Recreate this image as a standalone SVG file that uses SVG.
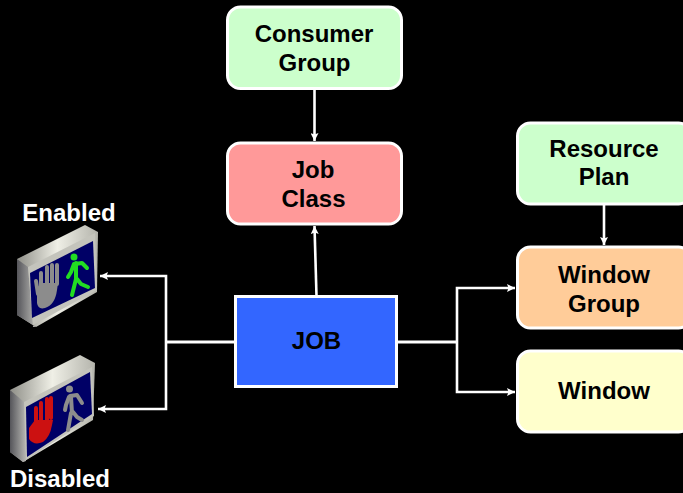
<svg xmlns="http://www.w3.org/2000/svg" width="683" height="493" viewBox="0 0 683 493">
<defs>
<style>
text{font-family:"Liberation Sans",Arial,sans-serif;font-weight:bold;font-size:24px;fill:#000;text-anchor:middle}
.w{fill:#fff}
.box{stroke:#fff;stroke-width:3}
.c{fill:none;stroke:#fff;stroke-width:3}
.t{fill:none;stroke:#fff;stroke-width:2.600}
.f{fill:none;stroke-width:4;stroke-linecap:round;stroke-linejoin:round}
</style>
<marker id="a" markerUnits="userSpaceOnUse" markerWidth="9" markerHeight="8" refX="8" refY="4" orient="auto"><path d="M0 0L8 4L0 8L1.500 4Z" fill="#fff"/></marker>
<linearGradient id="s" x1="0" y1="0" x2="1" y2="0"><stop offset="0" stop-color="#8f8f88"/><stop offset=".5" stop-color="#efefe6"/><stop offset="1" stop-color="#b4b4ac"/></linearGradient>
<linearGradient id="l" x1="0" y1="0" x2="1" y2="0"><stop offset="0" stop-color="#55555a"/><stop offset="1" stop-color="#b8b8b4"/></linearGradient>
</defs>
<rect width="683" height="493" fill="#000"/>
<g id="connectors">
<path class="t" d="M314.500 89V141" marker-end="url(#a)"/>
<path class="t" d="M316.500 296L314.500 226" marker-end="url(#a)"/>
<path class="t" d="M604 205V245" marker-end="url(#a)"/>
<path class="c" d="M235 342H166"/>
<path class="t" d="M166 342V276H100" marker-end="url(#a)"/>
<path class="t" d="M166 342V409H98" marker-end="url(#a)"/>
<path class="c" d="M398 342H457"/>
<path class="t" d="M457 342V288H515" marker-end="url(#a)"/>
<path class="t" d="M457 342V392H515" marker-end="url(#a)"/>
</g>
<g id="consumer-group"><rect class="box" x="227.500" y="7" width="174" height="81.500" rx="13" fill="#ccffcc"/><text x="314" y="42">Consumer</text><text x="314.500" y="71">Group</text></g>
<g id="job-class"><rect class="box" x="227.500" y="143" width="174" height="81" rx="13" fill="#ff9999"/><text x="313" y="178">Job</text><text x="313.500" y="207">Class</text></g>
<g id="resource-plan"><rect class="box" x="517.500" y="123" width="174" height="81" rx="13" fill="#ccffcc"/><text x="604" y="157">Resource</text><text x="604" y="185">Plan</text></g>
<g id="window-group"><rect class="box" x="517.500" y="247" width="174" height="81" rx="13" fill="#ffcc99"/><text x="604" y="283">Window</text><text x="604" y="312">Group</text></g>
<g id="window"><rect class="box" x="517.500" y="351" width="174" height="81" rx="13" fill="#ffffcc"/><text x="604" y="399">Window</text></g>
<g id="job"><rect class="box" x="235.500" y="296.500" width="161" height="90" fill="#3366ff"/><text x="316.500" y="349">JOB</text></g>
<g id="enabled">
<text class="w" x="69" y="221">Enabled</text>
<path d="M17 259L85 225L98 232L97 292L36 327L17 315Z" fill="url(#s)"/>
<path d="M17 259L28 267L33 327L36 327L17 315Z" fill="url(#l)"/>
<path d="M28 267L95 233L97 290L33 325Z" fill="#c4c4bc"/>
<path d="M30 273L93 241L95 288L32 318Z" fill="#000066"/>
<g stroke="#8c8c8c" class="f"><path d="M36 281L38 294M41 273V290M47 267V288M52 265V286M57 265V284"/></g>
<path d="M37 288L41 283H58L57 290Q55 305 45 308Q38 310 37 303Z" fill="#8c8c8c"/>
<g fill="#22dd22"><circle cx="74" cy="257" r="3.500"/><path d="M76 263L76 280" class="f" stroke="#22dd22" stroke-width="7"/><path d="M75 264L82 263L87 268M74 264L71 272L68 277M76 279L72 295M77 279L81 284L88 287" class="f" stroke="#22dd22" stroke-width="3.500"/></g>
</g>
<g id="disabled">
<text class="w" x="60" y="487">Disabled</text>
<path d="M10 390L80 355L95 363L93 420L23 462L10 452Z" fill="url(#s)"/>
<path d="M10 390L24 402L26 461L23 462L10 452Z" fill="url(#l)"/>
<path d="M24 402L92 367L94 416L26 460Z" fill="#c4c4bc"/>
<path d="M26 407L90 372L92 414L27 457Z" fill="#000066"/>
<g stroke="#cc1111" class="f" stroke-width="4.500"><path d="M36 408V425M41 403V422M47 399V420M51 398V418"/></g>
<path d="M29 428L35 420H53L52 425Q50 437 43 442Q34 446 29 439Z" fill="#cc1111"/>
<g fill="#8c8c8c"><circle cx="69.500" cy="389" r="3.500"/><path d="M71 397L72 413" class="f" stroke="#8c8c8c" stroke-width="7"/><path d="M70 396L77 395L82 403M69 397L66 405L65 410M71 413L68 430M73 412L77 417L82 420" class="f" stroke="#8c8c8c" stroke-width="3.500"/></g>
</g>
</svg>
